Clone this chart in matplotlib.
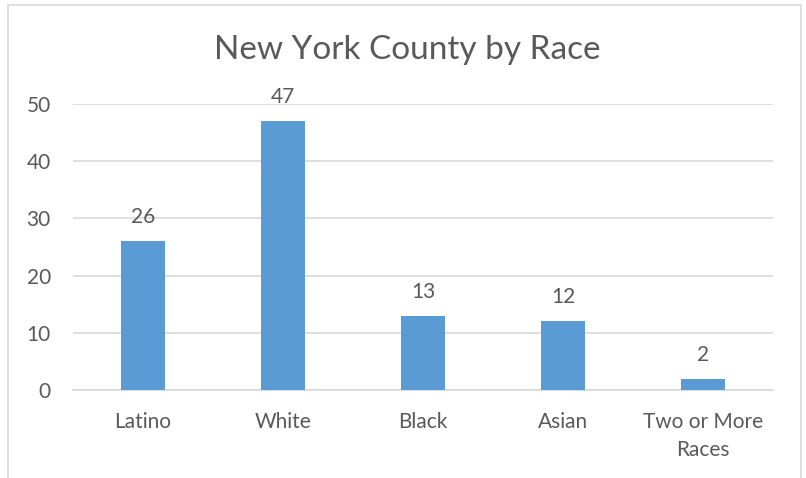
import matplotlib
matplotlib.use("Agg")
import matplotlib.pyplot as plt
from matplotlib.patches import Rectangle

categories = ["Latino", "White", "Black", "Asian", "Two or More\nRaces"]
values = [26, 47, 13, 12, 2]
yticks = [0, 10, 20, 30, 40, 50]

W, H = 806, 478
fig = plt.figure(figsize=(W / 100, H / 100), dpi=100)
plt.rcParams['font.family'] = ['Lato', 'DejaVu Sans']

txt = "#595959"
fs = 15
# outer border
fig.patches.append(Rectangle((8 / W, -0.05), (801 - 8) / W, 1.05 - 5 / H,
                             transform=fig.transFigure, fill=False,
                             edgecolor="#d9d9d9", linewidth=1.2))

ax = fig.add_axes([73 / W, 88 / H, 700 / W, (390 - 104) / H])
x = list(range(len(categories)))
ax.bar(x, values, width=0.315, color="#5b9bd5", zorder=3)
ax.set_xlim(-0.5, len(categories) - 0.5)
ax.set_ylim(0, 50)
ax.set_yticks(yticks)
ax.set_xticks(x)
ax.set_xticklabels(categories, fontsize=fs, color=txt, linespacing=1.55)
ax.tick_params(axis='y', labelsize=fs, colors=txt, length=0, pad=16)
ax.tick_params(axis='x', length=0, pad=15.5)
ax.grid(axis='y', color="#d9d9d9", linewidth=1.2, zorder=0)
for s in ["top", "right", "left"]:
    ax.spines[s].set_visible(False)
ax.spines["bottom"].set_color("#d9d9d9")
ax.spines["bottom"].set_linewidth(1.2)

for xi, v in zip(x, values):
    ax.annotate(str(v), (xi, v), xytext=(0, 10), textcoords="offset points",
                ha="center", va="bottom", fontsize=fs, color=txt)

fig.text(407 / W, 1 - 50 / H, "New York County by Race", ha="center", va="center",
         fontsize=24, color=txt)

fig.savefig("out.png", dpi=100)
